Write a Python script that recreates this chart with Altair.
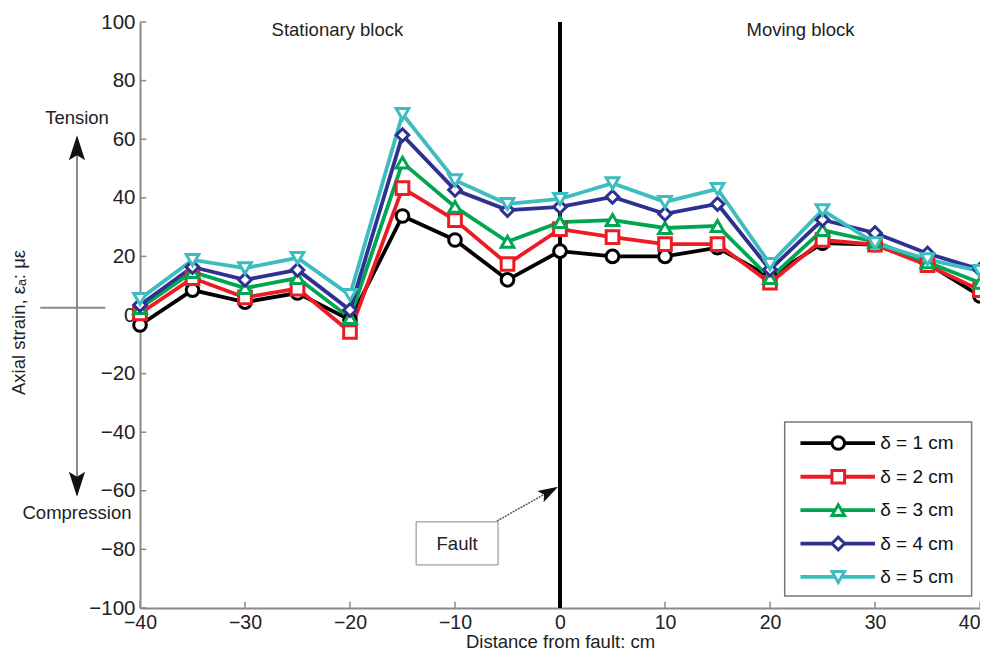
import altair as alt
import pandas as pd

# ---------------- data ----------------
positions = [-40, -35, -30, -25, -20, -15, -10, -5, 0, 5, 10, 15, 20, 25, 30, 35, 40]
series_names = ["δ = 1 cm", "δ = 2 cm", "δ = 3 cm", "δ = 4 cm", "δ = 5 cm"]
d1 = [-3.4, 8.5, 4.4, 7.5, -1.7, 33.8, 25.6, 12.0, 21.8, 20.0, 20.0, 23.0, 13.0, 24.5, 24.0, 17.5, 6.5]
d2 = [0.5, 12.6, 6.0, 9.0, -5.8, 43.3, 32.4, 17.4, 29.3, 26.6, 24.2, 24.2, 11.0, 25.6, 24.0, 17.0, 8.5]
d3 = [2.4, 14.7, 9.2, 12.6, -1.0, 52.0, 36.9, 25.0, 31.7, 32.4, 29.7, 30.4, 12.6, 29.0, 25.0, 18.0, 11.0]
d4 = [3.4, 16.4, 12.0, 15.4, 1.7, 61.4, 42.7, 35.8, 36.9, 40.3, 34.5, 37.9, 15.5, 32.5, 28.0, 21.0, 15.5]
d5 = [5.5, 18.8, 16.0, 19.5, 6.8, 68.6, 46.0, 37.9, 39.6, 45.0, 38.6, 43.0, 17.4, 35.8, 24.5, 19.0, 15.0]
colors = ["#000000", "#ec1c24", "#00a651", "#2e3192", "#3dbdbf"]
shapes = ["circle", "square", "triangle-up", "diamond", "triangle-down"]
x_ticks = [-40, -30, -20, -10, 0, 10, 20, 30, 40]
y_ticks = [-100, -80, -60, -40, -20, 0, 20, 40, 60, 80, 100]
block_labels = ["Stationary block", "Moving block"]
block_label_x = [-21.2, 22.9]
legend_rows_y = [-43.7, -55.2, -66.6, -78.0, -89.4]

FONT = "Liberation Sans"
FS = 18.5
series_values = [d1, d2, d3, d4, d5]
rows = []
for name, vals in zip(series_names, series_values):
    for xv, yv in zip(positions, vals):
        rows.append({"x": xv, "y": yv, "series": name})
df = pd.DataFrame(rows)

xs = alt.Scale(domain=[-40, 40], nice=False, zero=False)
ys = alt.Scale(domain=[-100, 100], nice=False, zero=False)
color_scale = alt.Scale(domain=series_names, range=colors)
shape_scale = alt.Scale(domain=series_names, range=shapes)

xaxis = alt.Axis(values=x_ticks, title="Distance from fault: cm", tickSize=0,
                 domainColor="#8a8a8a", domainWidth=2, labelFont=FONT, labelFontSize=19.5,
                 labelColor="#222", labelPadding=5, labelFlush=False,
                 labelAlign=alt.condition("datum.value == 40", alt.value("right"),
                                          alt.value("center")),
                 titleFont=FONT, titleFontSize=FS, titleFontWeight="normal",
                 titleColor="#222", titlePadding=1, grid=False)
yaxis = alt.Axis(values=y_ticks, title="Axial strain, εₐ: με", tickSize=0,
                 domainColor="#8a8a8a", domainWidth=2, labelFont=FONT, labelFontSize=20.5,
                 labelColor="#222", labelPadding=5, labelFlush=False, titleFont=FONT,
                 titleFontSize=18.5, titleFontWeight="normal", titleColor="#222",
                 titleX=-112, titleY=300, grid=False)


def X(field="x"):
    return alt.X(f"{field}:Q", scale=xs, axis=xaxis)


def Y(field="y"):
    return alt.Y(f"{field}:Q", scale=ys, axis=yaxis)


base = alt.Chart(df)

# fault line
fault_df = pd.DataFrame({"x": [0], "y": [-100], "y2": [100]})
fault_line = alt.Chart(fault_df).mark_rule(color="black", strokeWidth=4).encode(
    x=X(), y=Y(), y2="y2:Q")

# inward ticks
xt_df = pd.DataFrame({"x": x_ticks, "y": [-100] * len(x_ticks), "y2": [-97.9] * len(x_ticks)})
yt_df = pd.DataFrame({"x": [-40] * len(y_ticks), "x2": [-39.4] * len(y_ticks), "y": y_ticks})
xtick_marks = alt.Chart(xt_df).mark_rule(color="#8a8a8a", strokeWidth=1.5).encode(
    x=X(), y=Y(), y2="y2:Q")
ytick_marks = alt.Chart(yt_df).mark_rule(color="#8a8a8a", strokeWidth=1.5).encode(
    x=X(), x2="x2:Q", y=Y())

lines = base.mark_line(strokeWidth=3.8).encode(
    x=X(), y=Y(),
    color=alt.Color("series:N", scale=color_scale, legend=None),
    detail="series:N")
points = base.mark_point(filled=False, fill="white", fillOpacity=1, strokeWidth=3, size=160,
                         opacity=1).encode(
    x=X(), y=Y(),
    color=alt.Color("series:N", scale=color_scale, legend=None),
    shape=alt.Shape("series:N", scale=shape_scale, legend=None))

# block labels
bl_df = pd.DataFrame({"x": block_label_x, "y": [97.3, 97.3], "t": block_labels})
block_text = alt.Chart(bl_df).mark_text(font=FONT, fontSize=FS, color="#222",
                                        baseline="middle").encode(
    x=X(), y=Y(), text="t:N")

# tension / compression arrow
ax_df = pd.DataFrame({"x": [-46], "y": [59.7], "y2": [-61.4]})
arrow_v = alt.Chart(ax_df).mark_rule(color="#8a8a8a", strokeWidth=2, clip=False).encode(
    x=X(), y=Y(), y2="y2:Q")
ah_df = pd.DataFrame({"x": [-49.5], "x2": [-43.3], "y": [2.5]})
arrow_h = alt.Chart(ah_df).mark_rule(color="#8a8a8a", strokeWidth=2, clip=False).encode(
    x=X(), x2="x2:Q", y=Y())
up_path = "M0,-1L0.55,0.7L0,0.35L-0.55,0.7Z"
down_path = "M0,1L0.55,-0.7L0,-0.35L-0.55,-0.7Z"
up_df = pd.DataFrame({"x": [-46], "y": [56.3]})
down_df = pd.DataFrame({"x": [-46], "y": [-57.0]})
head_up = alt.Chart(up_df).mark_point(filled=True, color="#111", size=865, opacity=1,
                                      shape=up_path, clip=False).encode(x=X(), y=Y())
head_down = alt.Chart(down_df).mark_point(filled=True, color="#111", size=865, opacity=1,
                                          shape=down_path, clip=False).encode(x=X(), y=Y())
tc_df = pd.DataFrame({"x": [-46, -46], "y": [67.2, -67.6], "t": ["Tension", "Compression"]})
tc_text = alt.Chart(tc_df).mark_text(font=FONT, fontSize=FS, color="#222", baseline="middle",
                                     clip=False).encode(x=X(), y=Y(), text="t:N")

# fault annotation
fb_df = pd.DataFrame({"x": [-13.7], "x2": [-5.9], "y": [-70.6], "y2": [-85.3]})
fault_box = alt.Chart(fb_df).mark_rect(fill="white", stroke="#888", strokeWidth=1).encode(
    x=X(), x2="x2:Q", y=Y(), y2="y2:Q")
ft_df = pd.DataFrame({"x": [-9.8], "y": [-78.3], "t": ["Fault"]})
fault_text = alt.Chart(ft_df).mark_text(font=FONT, fontSize=FS, color="#222",
                                        baseline="middle").encode(x=X(), y=Y(), text="t:N")
fa_df = pd.DataFrame({"x": [-6.0], "x2": [-1.3], "y": [-70.3], "y2": [-60.8]})
fault_arrow_line = alt.Chart(fa_df).mark_rule(color="#555", strokeWidth=1.5,
                                              strokeDash=[2, 1]).encode(
    x=X(), x2="x2:Q", y=Y(), y2="y2:Q")
fah_df = pd.DataFrame({"x": [-1.17], "y": [-60.6]})
fault_head = alt.Chart(fah_df).mark_point(filled=True, color="#111", size=560, opacity=1,
                                          shape=up_path, angle=61).encode(x=X(), y=Y())

# legend (manual)
lb_df = pd.DataFrame({"x": [21.4], "x2": [39.2], "y": [-36.5], "y2": [-95.9]})
legend_box = alt.Chart(lb_df).mark_rect(fill="white", stroke="#777", strokeWidth=1.5).encode(
    x=X(), x2="x2:Q", y=Y(), y2="y2:Q")
leg_df = pd.DataFrame({"series": series_names, "y": legend_rows_y,
                       "x": [22.9] * 5, "x2": [30.0] * 5, "xm": [26.5] * 5, "xt": [30.5] * 5})
leg_lines = alt.Chart(leg_df).mark_rule(strokeWidth=3.8).encode(
    x=X(), x2="x2:Q", y=Y(),
    color=alt.Color("series:N", scale=color_scale, legend=None))
leg_points = alt.Chart(leg_df).mark_point(filled=False, fill="white", fillOpacity=1,
                                          strokeWidth=3, size=160, opacity=1).encode(
    x=X("xm"), y=Y(),
    color=alt.Color("series:N", scale=color_scale, legend=None),
    shape=alt.Shape("series:N", scale=shape_scale, legend=None))
leg_text = alt.Chart(leg_df).mark_text(font=FONT, fontSize=19, color="#111", align="left",
                                       baseline="middle").encode(
    x=X("xt"), y=Y(), text="series:N")

chart = alt.layer(
    xtick_marks, ytick_marks, fault_line, lines, points, block_text,
    arrow_v, arrow_h, head_up, head_down, tc_text,
    fault_arrow_line, fault_head, fault_box, fault_text,
    legend_box, leg_lines, leg_points, leg_text,
).properties(
    width=840, height=586,
    autosize=alt.AutoSizeParams(type="none"),
    padding={"left": 132, "top": 14, "right": 0, "bottom": 44},
    background="white",
).configure_view(stroke=None)

chart.save("out.html", embed_options={"renderer": "svg", "actions": False})
